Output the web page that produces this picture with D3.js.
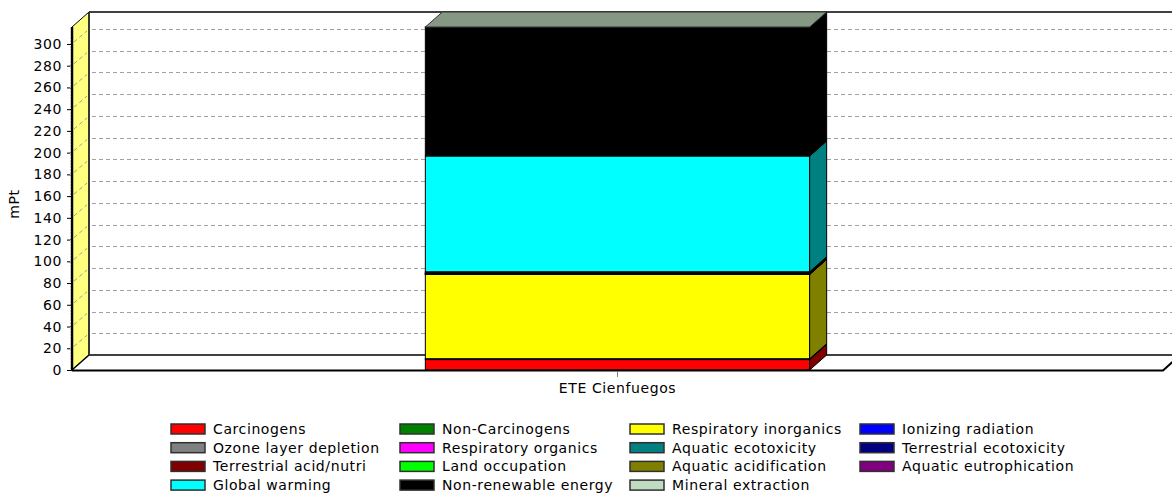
<!DOCTYPE html>
<html>
<head>
<meta charset="utf-8">
<script src="https://cdn.jsdelivr.net/npm/d3@7"></script>
<style>
  html, body { margin: 0; padding: 0; background: #fff; }
  svg { display: block; font-family: "DejaVu Sans", Verdana, sans-serif; }
  svg text { letter-spacing: 0.6px; }
</style>
</head>
<body>
<svg id="chart" width="1172" height="498"></svg>
<script>
// Impact categories (stack order, bottom to top) and their colours
const categories = [
  "Carcinogens", "Non-Carcinogens", "Respiratory inorganics", "Ionizing radiation",
  "Ozone layer depletion", "Respiratory organics", "Aquatic ecotoxicity", "Terrestrial ecotoxicity",
  "Terrestrial acid/nutri", "Land occupation", "Aquatic acidification", "Aquatic eutrophication",
  "Global warming", "Non-renewable energy", "Mineral extraction"
];
const colors = [
  "#ff0000", "#008000", "#ffff00", "#0000ff",
  "#808080", "#ff00ff", "#008080", "#000080",
  "#800000", "#00ff00", "#808000", "#800080",
  "#00ffff", "#000000", "#c0dcc0"
];
// Single score per impact category, mPt
const values = [
  9.6, 0.8, 77.5, 0.3,
  0.05, 0.1, 0.25, 0.6,
  0.7, 0.5, 0.0, 0.0,
  106.5, 118.5, 0.2
];
const products = ["ETE Cienfuegos"];
const yTicks = d3.range(0, 301, 20);
const yLabel = "mPt";

const svg = d3.select("#chart");
const fontSize = 14;

// 3D box geometry
const depthX = 17, depthY = -15;
const plotLeft = 72, plotRight = 1163, plotBottom = 370, plotTop = 27;

const total = d3.sum(values);
const y = d3.scaleLinear().domain([0, total]).range([plotBottom, plotTop]);
const x = d3.scaleBand().domain(products).range([plotLeft, plotRight]).padding(0.479);

const poly = pts => pts.map(p => p.join(",")).join(" ");
const shade = (c, f) => { const r = d3.rgb(c); return d3.rgb(r.r * f, r.g * f, r.b * f).toString(); };

// Back wall
svg.append("rect")
  .attr("x", plotLeft + depthX).attr("y", plotTop + depthY)
  .attr("width", 1200 - plotLeft - depthX).attr("height", plotBottom - plotTop)
  .attr("fill", "#fff");

// Left side wall
svg.append("polygon")
  .attr("points", poly([[plotLeft, plotBottom], [plotLeft, plotTop], [plotLeft + depthX, plotTop + depthY], [plotLeft + depthX, plotBottom + depthY]]))
  .attr("fill", "#ffff80").attr("stroke", "#000").attr("stroke-width", 1);

// Gridlines on back wall and side wall
const grid = svg.append("g").attr("stroke", "#a0a0a0").attr("stroke-width", 1).attr("stroke-dasharray", "4,3");
yTicks.filter(v => v > 0).forEach(v => {
  const yb = Math.round(y(v) + depthY) + 0.5;
  grid.append("line").attr("x1", plotLeft + depthX + 3).attr("x2", 1200).attr("y1", yb).attr("y2", yb);
  grid.append("line").attr("x1", plotLeft + 2).attr("x2", plotLeft + depthX - 2)
    .attr("y1", y(v) - 2).attr("y2", y(v) + depthY + 2);
});

// Back wall edges
svg.append("line").attr("x1", plotLeft + depthX).attr("x2", 1200)
  .attr("y1", plotTop + depthY).attr("y2", plotTop + depthY)
  .attr("stroke", "#404040").attr("stroke-width", 2);
svg.append("line").attr("x1", plotLeft + depthX).attr("x2", plotLeft + depthX)
  .attr("y1", plotTop + depthY).attr("y2", plotBottom + depthY)
  .attr("stroke", "#202020").attr("stroke-width", 1.5);

// Floor
svg.append("polygon")
  .attr("points", poly([[plotLeft, plotBottom], [plotLeft + depthX, plotBottom + depthY], [plotRight + depthX, plotBottom + depthY], [plotRight, plotBottom]]))
  .attr("fill", "#fff");
svg.append("line").attr("x1", plotLeft + depthX).attr("x2", 1200)
  .attr("y1", plotBottom + depthY).attr("y2", plotBottom + depthY)
  .attr("stroke", "#404040").attr("stroke-width", 2);
svg.append("line").attr("x1", plotLeft).attr("x2", plotLeft + depthX)
  .attr("y1", plotBottom).attr("y2", plotBottom + depthY)
  .attr("stroke", "#000").attr("stroke-width", 1.5);

// Stacked 3D bar
const stacked = [];
let acc = 0;
values.forEach((v, i) => { stacked.push({ name: categories[i], color: colors[i], y0: acc, y1: acc + v }); acc += v; });

const bars = svg.append("g");
products.forEach(p => {
  const x0 = x(p), x1 = x(p) + x.bandwidth();
  const visible = stacked.filter(s => s.y1 > s.y0);
  visible.forEach(s => {
    const yb = y(s.y0), yt = y(s.y1);
    bars.append("rect")
      .attr("x", x0).attr("y", yt).attr("width", x1 - x0).attr("height", yb - yt)
      .attr("fill", s.color).attr("stroke", "#000").attr("stroke-width", 1);
    bars.append("polygon")
      .attr("points", poly([[x1, yb], [x1, yt], [x1 + depthX, yt + depthY], [x1 + depthX, yb + depthY]]))
      .attr("fill", shade(s.color, 0.5)).attr("stroke", "#000").attr("stroke-width", 1);
  });
  const last = visible[visible.length - 1];
  const yt = y(last.y1);
  bars.append("polygon")
    .attr("points", poly([[x0, yt], [x0 + depthX, yt + depthY], [x1 + depthX, yt + depthY], [x1, yt]]))
    .attr("fill", shade(last.color, 0.69)).attr("stroke", "#303030").attr("stroke-width", 1);
});

// Front floor edge
svg.append("polyline")
  .attr("points", poly([[plotLeft, plotBottom + 0.5], [plotRight, plotBottom + 0.5], [plotRight + depthX, plotBottom + depthY]]))
  .attr("fill", "none").attr("stroke", "#000").attr("stroke-width", 2);

// Y axis
const yAxis = d3.axisLeft(y).tickValues(yTicks).tickSize(5).tickPadding(5).tickFormat(d3.format("d"));
const gy = svg.append("g").attr("transform", `translate(${plotLeft},0)`).call(yAxis);
gy.select(".domain").remove();
gy.selectAll(".tick line").attr("stroke", "#000");
gy.selectAll(".tick text").attr("font-size", fontSize).attr("fill", "#000")
  .attr("font-family", "DejaVu Sans, Verdana, sans-serif");
svg.append("line").attr("x1", plotLeft).attr("x2", plotLeft).attr("y1", plotTop).attr("y2", plotBottom + 1)
  .attr("stroke", "#000").attr("stroke-width", 2.5);
svg.append("line").attr("x1", plotLeft - 1.5).attr("x2", plotLeft - 1.5).attr("y1", plotTop).attr("y2", plotBottom)
  .attr("stroke", "#fff").attr("stroke-width", 0.6).attr("stroke-dasharray", "1,2");

svg.append("text")
  .attr("transform", `translate(19,204) rotate(-90)`)
  .attr("text-anchor", "middle").attr("font-size", fontSize).attr("fill", "#000")
  .text(yLabel);

// X axis
const xAxis = d3.axisBottom(x).tickSize(6).tickPadding(6);
const gx = svg.append("g").attr("transform", `translate(0,${plotBottom + 1})`).call(xAxis);
gx.select(".domain").remove();
gx.selectAll(".tick line").attr("stroke", "#808080");
gx.selectAll(".tick text").attr("font-size", fontSize).attr("fill", "#000")
  .attr("font-family", "DejaVu Sans, Verdana, sans-serif");

// Legend: 4 columns, row-major
const legendCols = [170, 399, 629, 859];
const legendRow0 = 429, legendRowStep = 18.7;
const legend = svg.append("g");
categories.forEach((name, i) => {
  const cx = legendCols[i % 4], cy = legendRow0 + Math.floor(i / 4) * legendRowStep;
  legend.append("rect")
    .attr("x", cx + 1).attr("y", cy - 5).attr("width", 34).attr("height", 10)
    .attr("fill", colors[i]).attr("stroke", "#303030").attr("stroke-width", 1.5);
  legend.append("text")
    .attr("x", cx + 43).attr("y", cy).attr("dy", "0.36em")
    .attr("font-size", fontSize).attr("fill", "#000")
    .text(name);
});
</script>
</body>
</html>
